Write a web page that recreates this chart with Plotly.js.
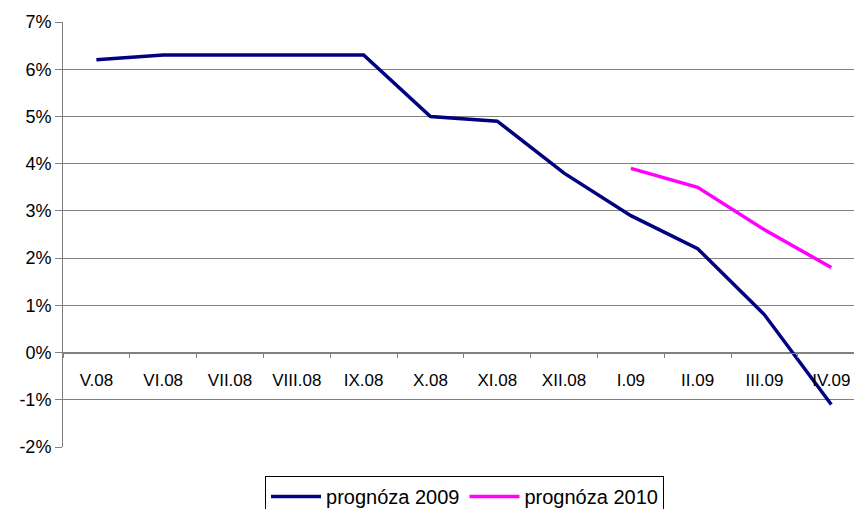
<!DOCTYPE html>
<html>
<head>
<meta charset="utf-8">
<script src="https://cdn.plot.ly/plotly-3.0.1.min.js"></script>
<style>
  html, body { margin: 0; padding: 0; background: #fff; }
  #chart { width: 854px; height: 509px; }
</style>
</head>
<body>
<div id="chart"></div>
<script>
// mesiace a prognózy (v %)
var months = ['V.08', 'VI.08', 'VII.08', 'VIII.08', 'IX.08', 'X.08', 'XI.08', 'XII.08', 'I.09', 'II.09', 'III.09', 'IV.09'];
var prognoza2009 = [6.2, 6.3, 6.3, 6.3, 6.3, 5.0, 4.9, 3.8, 2.9, 2.2, 0.8, -1.1];
var prognoza2010 = [null, null, null, null, null, null, null, null, 3.9, 3.5, 2.6, 1.8];
var yTicks = [-2, -1, 0, 1, 2, 3, 4, 5, 6, 7];

var trace1 = {
    x: months,
    y: prognoza2009,
    mode: 'lines',
    name: 'prognóza 2009',
    line: { color: '#000080', width: 3.5 }
};

var trace2 = {
    x: months,
    y: prognoza2010,
    mode: 'lines',
    name: 'prognóza 2010',
    line: { color: '#FF00FF', width: 3.5 }
};

var layout = {
    width: 854,
    height: 509,
    font: { family: 'Liberation Sans, Arial, sans-serif', size: 17, color: '#000' },
    paper_bgcolor: '#fff',
    plot_bgcolor: '#fff',
    margin: { l: 63, r: 0, t: 22, b: 62, autoexpand: false },
    xaxis: {
        type: 'category',
        range: [-0.5, 11.34],
        anchor: 'free',
        position: 2 / 9, // os x leží na 0 %
        showgrid: false,
        showline: true,
        linecolor: '#808080',
        linewidth: 1,
        ticks: 'outside',
        tickson: 'boundaries',
        ticklen: 4,
        tickcolor: '#808080',
        ticklabelstandoff: 12,
        tickfont: { size: 17 },
        zeroline: false,
        fixedrange: true
    },
    yaxis: {
        range: [-2, 7],
        tickvals: yTicks,
        ticktext: yTicks.map(function (v) { return v + '%'; }),
        tickfont: { size: 18 },
        showgrid: true,
        gridcolor: '#808080',
        gridwidth: 1,
        showline: true,
        linecolor: '#808080',
        ticks: 'outside',
        ticklen: 7,
        tickcolor: '#808080',
        zeroline: false,
        fixedrange: true
    },
    showlegend: true,
    legend: {
        orientation: 'h',
        x: 0.5076,
        xanchor: 'center',
        y: -0.068,
        yanchor: 'top',
        bordercolor: '#000',
        borderwidth: 1,
        font: { size: 20 },
        itemwidth: 50,
        tracegroupgap: 0
    },
    hovermode: false
};

Plotly.newPlot('chart', [trace1, trace2], layout, { displayModeBar: false, staticPlot: true });
</script>
</body>
</html>
